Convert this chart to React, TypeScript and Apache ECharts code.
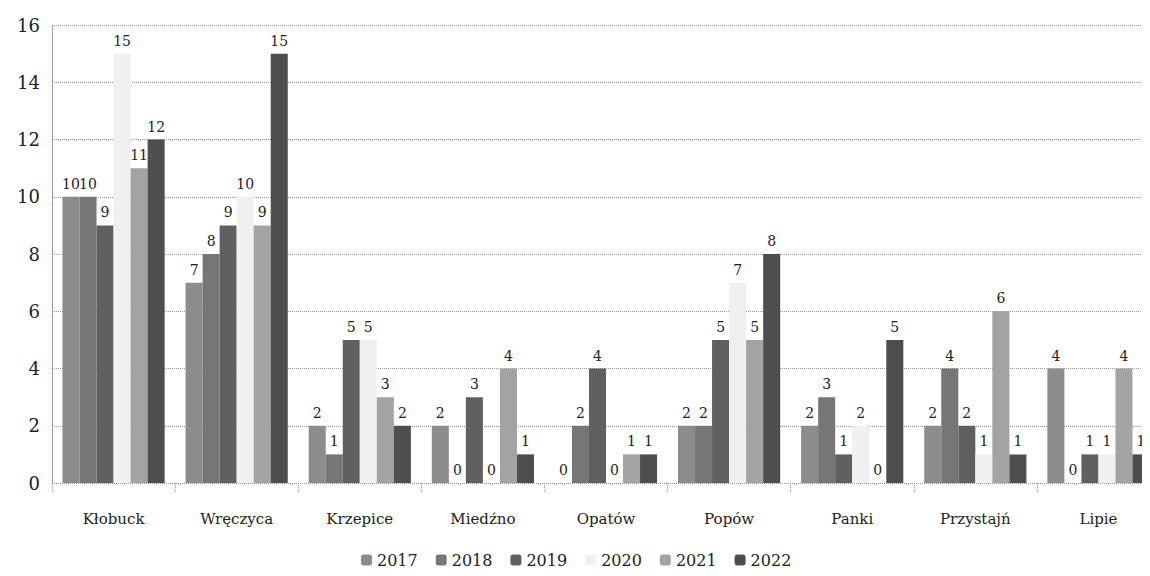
import React, { useEffect, useRef } from "react";
import * as echarts from "echarts";

const categories = ["Kłobuck", "Wręczyca", "Krzepice", "Miedźno", "Opatów", "Popów", "Panki", "Przystajń", "Lipie"];
const years = ["2017", "2018", "2019", "2020", "2021", "2022"];
const v2017 = [10, 7, 2, 2, 0, 2, 2, 2, 4];
const v2018 = [10, 8, 1, 0, 2, 2, 3, 4, 0];
const v2019 = [9, 9, 5, 3, 4, 5, 1, 2, 1];
const v2020 = [15, 10, 5, 0, 0, 7, 2, 1, 1];
const v2021 = [11, 9, 3, 4, 1, 5, 0, 6, 4];
const v2022 = [12, 15, 2, 1, 1, 8, 5, 1, 1];
const seriesValues = [v2017, v2018, v2019, v2020, v2021, v2022];
const colors = ["#8c8c8c", "#767676", "#606060", "#f0f0f0", "#a3a3a3", "#4e4e4e"];
const yTicks = [0, 2, 4, 6, 8, 10, 12, 14, 16];

const FONT = "DejaVu Serif";

export default function App() {
  const ref = useRef<HTMLDivElement>(null);
  useEffect(() => {
    const chart = echarts.init(ref.current!, null, { renderer: "svg" });
    chart.setOption({
      animation: false,
      backgroundColor: "#ffffff",
      grid: { left: 52, top: 25, right: 0, bottom: 93, containLabel: false },
      legend: {
        bottom: 3,
        left: 356,
        itemWidth: 11,
        itemHeight: 11,
        itemGap: 18,
        textStyle: { fontFamily: FONT, fontSize: 16, color: "#222" },
        data: years,
      },
      xAxis: {
        type: "category",
        data: categories,
        axisLine: { show: false },
        axisTick: { show: true, length: 10, lineStyle: { type: "dotted", color: "#999" } },
        axisLabel: { fontFamily: FONT, fontSize: 15, color: "#222", margin: 28 },
      },
      yAxis: {
        type: "value",
        min: yTicks[0],
        max: yTicks[yTicks.length - 1],
        interval: 2,
        axisLine: { show: true, lineStyle: { type: "dotted", color: "#888" } },
        axisTick: { show: false },
        axisLabel: { fontFamily: FONT, fontSize: 18, color: "#222", margin: 12 },
        splitLine: { show: true, lineStyle: { type: "dotted", color: "#999" } },
      },
      series: seriesValues.map((vals, i) => ({
        name: years[i],
        type: "bar",
        data: vals,
        barGap: "0%",
        barCategoryGap: "17%",
        itemStyle: { color: colors[i] },
        label: {
          show: true,
          position: "top",
          distance: 6,
          fontFamily: FONT,
          fontSize: 14,
          color: "#222",
        },
      })),
    });
    return () => chart.dispose();
  }, []);
  return (
    <div style={{ width: 1150, height: 576, margin: -8, overflow: "hidden", background: "#fff" }}>
      <div ref={ref} style={{ width: 1160, height: 576 }} />
    </div>
  );
}
